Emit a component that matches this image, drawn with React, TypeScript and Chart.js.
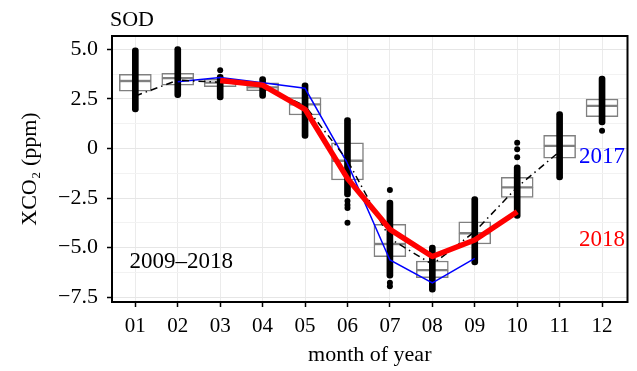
import { useEffect, useRef } from 'react';
import { Chart, registerables } from 'chart.js';

Chart.register(...registerables);

// ---- data ----
const months = [1, 2, 3, 4, 5, 6, 7, 8, 9, 10, 11, 12];
const monthLabels = ['01', '02', '03', '04', '05', '06', '07', '08', '09', '10', '11', '12'];

// box statistics per month (2009–2018)
const boxQ1 = [2.9, 3.2, 3.12, 2.92, 1.69, -1.59, -5.46, -6.52, -4.82, -2.47, -0.49, 1.61];
const boxMedian = [3.41, 3.55, 3.33, 3.09, 2.23, -0.62, -4.82, -6.14, -4.28, -1.96, 0.13, 2.15];
const boxQ3 = [3.75, 3.8, 3.49, 3.32, 2.57, 0.29, -3.83, -5.68, -3.7, -1.46, 0.66, 2.5];

// extent of densely packed observation dots per month
const dotsLow = [1.85, 2.57, 2.45, 2.53, 0.51, -2.45, -6.55, -7.26, -5.88, -3.53, -1.59, 1.19];
const dotsHigh = [5.08, 5.14, 3.75, 3.63, 3.32, 1.56, -2.6, -4.87, -2.43, -0.83, 1.86, 3.66];

// isolated observation dots
const isoMonth = [3, 6, 6, 6, 6, 7, 7, 7, 10, 10, 10, 12];
const isoValue = [3.95, -2.65, -2.85, -3.0, -3.75, -2.1, -6.78, -6.95, 0.29, -0.04, -0.44, 0.9];

// multi-year mean (dash-dot)
const meanMonths = [1, 2, 3, 4, 5, 6, 7, 8, 9, 10, 11];
const meanValues = [2.65, 3.45, 3.35, 3.15, 2.15, -0.6, -4.55, -5.85, -4.2, -1.95, -0.15];

// 2017
const y2017Months = [2, 3, 4, 5, 6, 7, 8, 9];
const y2017Values = [3.37, 3.58, 3.32, 3.04, -0.75, -5.63, -6.78, -5.55];

// 2018
const y2018Months = [3, 4, 5, 6, 7, 8, 9, 10];
const y2018Values = [3.43, 3.2, 1.98, -1.51, -4.08, -5.45, -4.62, -3.19];

// y ticks
const yMajorValues = [5, 2.5, 0, -2.5, -5, -7.5];
const yMajorLabels = ['5.0', '2.5', '0', '−2.5', '−5.0', '−7.5'];
const yMinorValues = [3.75, 1.25, -1.25, -3.75, -6.25];

// text annotations
const annoText = ['2017', '2018', '2009–2018'];
const annoX = [12, 12, 2.08];
const annoY = [-0.43, -4.62, -5.73];
const annoColor = ['#0000ff', '#ff0000', '#000000'];

const FONT = '"Liberation Serif", "DejaVu Serif", serif';

const isMajor = (v: number) => yMajorValues.some((m) => Math.abs(m - v) < 1e-6);

const overlayPlugin = {
  id: 'overlay',
  afterDatasetsDraw(chart: any) {
    const { ctx, chartArea: a, scales } = chart;
    const x = scales.x;
    const y = scales.y;
    ctx.save();
    ctx.strokeStyle = '#000';
    ctx.lineWidth = 2;
    ctx.strokeRect(a.left, a.top, a.right - a.left, a.bottom - a.top);
    ctx.textAlign = 'center';
    ctx.textBaseline = 'middle';
    ctx.font = `23px ${FONT}`;
    annoText.forEach((t, i) => {
      ctx.fillStyle = annoColor[i];
      ctx.fillText(t, x.getPixelForValue(annoX[i]), y.getPixelForValue(annoY[i]));
    });
    ctx.textAlign = 'left';
    ctx.textBaseline = 'alphabetic';
    ctx.font = `22px ${FONT}`;
    ctx.fillStyle = '#000';
    ctx.fillText('SOD', a.left - 2, a.top - 10);
    ctx.restore();
  },
};

export default function App() {
  const ref = useRef<HTMLCanvasElement | null>(null);

  useEffect(() => {
    document.body.style.margin = '0';
    const canvas = ref.current;
    if (!canvas) return;

    const boxCommon = {
      type: 'bar' as const,
      backgroundColor: '#ffffff',
      borderColor: '#808080',
      borderWidth: 1.5,
      borderSkipped: false,
      barThickness: 32,
      grouped: false,
      order: 4,
    };

    const chart = new Chart(canvas, {
      type: 'bar',
      data: {
        datasets: [
          {
            ...boxCommon,
            label: 'box lower',
            data: months.map((m, i) => ({ x: m, y: [boxQ1[i], boxMedian[i]] })),
          },
          {
            ...boxCommon,
            label: 'box upper',
            data: months.map((m, i) => ({ x: m, y: [boxMedian[i], boxQ3[i]] })),
          },
          {
            type: 'bar',
            label: 'obs',
            data: months.map((m, i) => ({ x: m, y: [dotsLow[i], dotsHigh[i]] })),
            backgroundColor: '#000',
            borderWidth: 0,
            borderRadius: 3,
            borderSkipped: false,
            barThickness: 6,
            grouped: false,
            order: 3,
          },
          {
            type: 'scatter',
            label: 'obs isolated',
            data: isoMonth.map((m, i) => ({ x: m, y: isoValue[i] })),
            backgroundColor: '#000',
            borderColor: '#000',
            pointRadius: 3,
            borderWidth: 0,
            order: 2,
          },
          {
            type: 'line',
            label: '2009–2018',
            data: meanMonths.map((m, i) => ({ x: m, y: meanValues[i] })),
            borderColor: '#000',
            borderWidth: 1.5,
            borderDash: [7, 4, 1.5, 4],
            pointRadius: 0,
            fill: false,
            order: 1,
          },
          {
            type: 'line',
            label: '2017',
            data: y2017Months.map((m, i) => ({ x: m, y: y2017Values[i] })),
            borderColor: '#0000ff',
            borderWidth: 1.5,
            pointRadius: 0,
            fill: false,
            order: 1,
          },
          {
            type: 'line',
            label: '2018',
            data: y2018Months.map((m, i) => ({ x: m, y: y2018Values[i] })),
            borderColor: '#ff0000',
            borderWidth: 5.5,
            borderJoinStyle: 'round',
            pointRadius: 0,
            fill: false,
            order: 0,
          },
        ] as any,
      },
      options: {
        animation: false,
        responsive: false,
        devicePixelRatio: 1,
        layout: { padding: { top: 36, right: 9.5, left: 0, bottom: 0 } },
        plugins: {
          legend: { display: false },
          tooltip: { enabled: false },
          title: { display: false },
        },
        scales: {
          x: {
            type: 'linear',
            min: 0.45,
            max: 12.6,
            offset: false,
            afterBuildTicks: (axis: any) => {
              axis.ticks = months.map((v) => ({ value: v }));
            },
            afterFit: (axis: any) => {
              axis.height = 69;
            },
            grid: {
              offset: false,
              color: '#ebebeb',
              lineWidth: 1,
              drawTicks: true,
              tickLength: 5,
              tickColor: '#000',
              tickWidth: 1.5,
            },
            border: { display: false },
            ticks: {
              color: '#000',
              font: { family: FONT, size: 21 },
              padding: 7,
              maxRotation: 0,
              autoSkip: false,
              callback: (value: any) => {
                const i = months.indexOf(Number(value));
                return i >= 0 ? monthLabels[i] : '';
              },
            },
            title: {
              display: true,
              text: 'month of year',
              color: '#000',
              font: { family: FONT, size: 22 },
              padding: { top: 0, bottom: 3 },
            },
          },
          y: {
            type: 'linear',
            min: -7.75,
            max: 5.68,
            afterBuildTicks: (axis: any) => {
              axis.ticks = [...yMajorValues, ...yMinorValues]
                .sort((a, b) => a - b)
                .map((v) => ({ value: v }));
            },
            afterFit: (axis: any) => {
              axis.width = 112;
            },
            grid: {
              color: (ctx: any) => (ctx.tick && isMajor(ctx.tick.value) ? '#e6e6e6' : '#f2f2f2'),
              lineWidth: 1,
              drawTicks: true,
              tickLength: 5,
              tickColor: (ctx: any) =>
                ctx.tick && isMajor(ctx.tick.value) ? '#000' : 'rgba(0,0,0,0)',
              tickWidth: 1.5,
            },
            border: { display: false },
            ticks: {
              color: '#000',
              font: { family: FONT, size: 22 },
              padding: 9,
              autoSkip: false,
              callback: (value: any) => {
                const i = yMajorValues.findIndex((m) => Math.abs(m - Number(value)) < 1e-6);
                return i >= 0 ? yMajorLabels[i] : '';
              },
            },
            title: {
              display: true,
              text: 'XCO₂ (ppm)',
              color: '#000',
              font: { family: FONT, size: 22 },
              padding: { top: 17, bottom: 0 },
            },
          },
        },
      } as any,
      plugins: [overlayPlugin],
    });

    return () => chart.destroy();
  }, []);

  return (
    <div style={{ width: 637, height: 371 }}>
      <canvas ref={ref} width={637} height={371} />
    </div>
  );
}
